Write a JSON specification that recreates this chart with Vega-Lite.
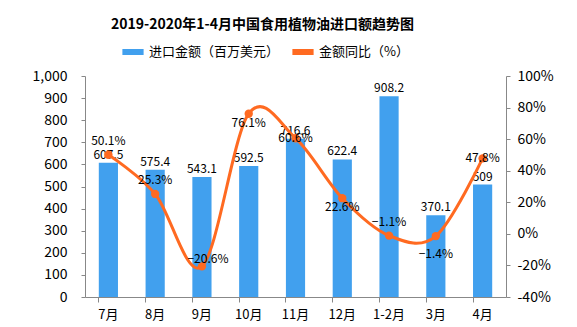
{
  "$schema": "https://vega.github.io/schema/vega-lite/v6.json",
  "width": 421,
  "height": 221,
  "autosize": {"type": "none"},
  "padding": {"left": 85, "top": 76, "right": 71, "bottom": 30},
  "background": "white",
  "config": {"view": {"stroke": null}, "font": "Noto Sans CJK SC"},
  "title": {
    "text": "2019-2020年1-4月中国食用植物油进口额趋势图",
    "fontSize": 14,
    "fontWeight": "bold",
    "color": "#000000",
    "anchor": "middle",
    "dx": -33,
    "offset": 6
  },
  "data": {
    "values": [
      {"month": "7月", "amount": 607.5, "yoy": 50.1},
      {"month": "8月", "amount": 575.4, "yoy": 25.3},
      {"month": "9月", "amount": 543.1, "yoy": -20.6},
      {"month": "10月", "amount": 592.5, "yoy": 76.1},
      {"month": "11月", "amount": 716.6, "yoy": 60.6},
      {"month": "12月", "amount": 622.4, "yoy": 22.6},
      {"month": "1-2月", "amount": 908.2, "yoy": -1.1},
      {"month": "3月", "amount": 370.1, "yoy": -1.4},
      {"month": "4月", "amount": 509, "yoy": 47.8}
    ]
  },
  "encoding": {
    "x": {
      "field": "month",
      "type": "nominal",
      "sort": null,
      "scale": {"paddingInner": 0.59, "paddingOuter": 0.295},
      "axis": {
        "title": null,
        "labelAngle": 0,
        "labelFontSize": 13,
        "labelColor": "#000000",
        "domainColor": "#888888",
        "tickColor": "#888888",
        "tickSize": 5,
        "bandPosition": 0,
        "labelPadding": 6
      }
    }
  },
  "layer": [
    {
      "encoding": {
        "y": {
          "field": "amount",
          "type": "quantitative",
          "scale": {"domain": [0, 1000], "nice": false},
          "axis": {
            "title": null,
            "orient": "left",
            "values": [0, 100, 200, 300, 400, 500, 600, 700, 800, 900, 1000],
            "format": ",.0f",
            "grid": false,
            "domainColor": "#888888",
            "tickColor": "#888888",
            "tickSize": 4,
            "labelFontSize": 14,
            "labelColor": "#000000",
            "labelPadding": 14
          }
        }
      },
      "layer": [
        {
          "mark": {"type": "bar", "color": "#41A0EE"},
          "encoding": {
            "color": {
              "datum": "进口金额（百万美元）",
              "type": "nominal",
              "scale": {
                "domain": ["进口金额（百万美元）", "金额同比（%）"],
                "range": ["#41A0EE", "#FF6A21"]
              },
              "legend": {
                "title": null,
                "orient": "none",
                "legendX": 34,
                "legendY": -38,
                "direction": "horizontal",
                "symbolType": "stroke",
                "symbolStrokeWidth": 6,
                "symbolSize": 450,
                "labelFontSize": 13,
                "labelColor": "#000000",
                "columnPadding": 0,
                "labelOffset": 2
              }
            }
          }
        },
        {
          "mark": {"type": "text", "dy": -8, "fontSize": 12, "color": "#000000"},
          "encoding": {
            "text": {"field": "amount", "type": "quantitative", "format": "~f"}
          }
        }
      ]
    },
    {
      "transform": [{"calculate": "format(datum.yoy, '.1f') + '%'", "as": "yoyLabel"}],
      "encoding": {
        "y": {
          "field": "yoy",
          "type": "quantitative",
          "scale": {"domain": [-40, 100], "nice": false},
          "axis": {
            "title": null,
            "orient": "right",
            "values": [-40, -20, 0, 20, 40, 60, 80, 100],
            "labelExpr": "datum.value + '%'",
            "grid": false,
            "domainColor": "#888888",
            "tickColor": "#888888",
            "tickSize": 4,
            "labelFontSize": 14,
            "labelColor": "#000000",
            "labelPadding": 7
          }
        }
      },
      "layer": [
        {
          "mark": {"type": "line", "interpolate": "cardinal", "strokeWidth": 3, "color": "#FF6A21"},
          "encoding": {
            "color": {"datum": "金额同比（%）", "type": "nominal"}
          }
        },
        {
          "mark": {"type": "point", "filled": true, "size": 70, "color": "#FF6A21", "opacity": 1}
        },
        {
          "transform": [{"filter": {"field": "month", "oneOf": ["7月", "8月", "1-2月"]}}],
          "mark": {"type": "text", "dy": -14, "fontSize": 12, "color": "#000000"},
          "encoding": {"text": {"field": "yoyLabel", "type": "nominal"}}
        },
        {
          "transform": [{"filter": {"field": "month", "oneOf": ["9月"]}}],
          "mark": {"type": "text", "dy": -7, "dx": 6, "fontSize": 12, "color": "#000000"},
          "encoding": {"text": {"field": "yoyLabel", "type": "nominal"}}
        },
        {
          "transform": [{"filter": {"field": "month", "oneOf": ["10月", "12月"]}}],
          "mark": {"type": "text", "dy": 9, "fontSize": 12, "color": "#000000"},
          "encoding": {"text": {"field": "yoyLabel", "type": "nominal"}}
        },
        {
          "transform": [{"filter": {"field": "month", "oneOf": ["3月"]}}],
          "mark": {"type": "text", "dy": 18, "fontSize": 12, "color": "#000000"},
          "encoding": {"text": {"field": "yoyLabel", "type": "nominal"}}
        },
        {
          "transform": [{"filter": {"field": "month", "oneOf": ["11月", "4月"]}}],
          "mark": {"type": "text", "dy": 0, "fontSize": 12, "color": "#000000"},
          "encoding": {"text": {"field": "yoyLabel", "type": "nominal"}}
        }
      ]
    }
  ],
  "resolve": {"scale": {"y": "independent"}}
}
